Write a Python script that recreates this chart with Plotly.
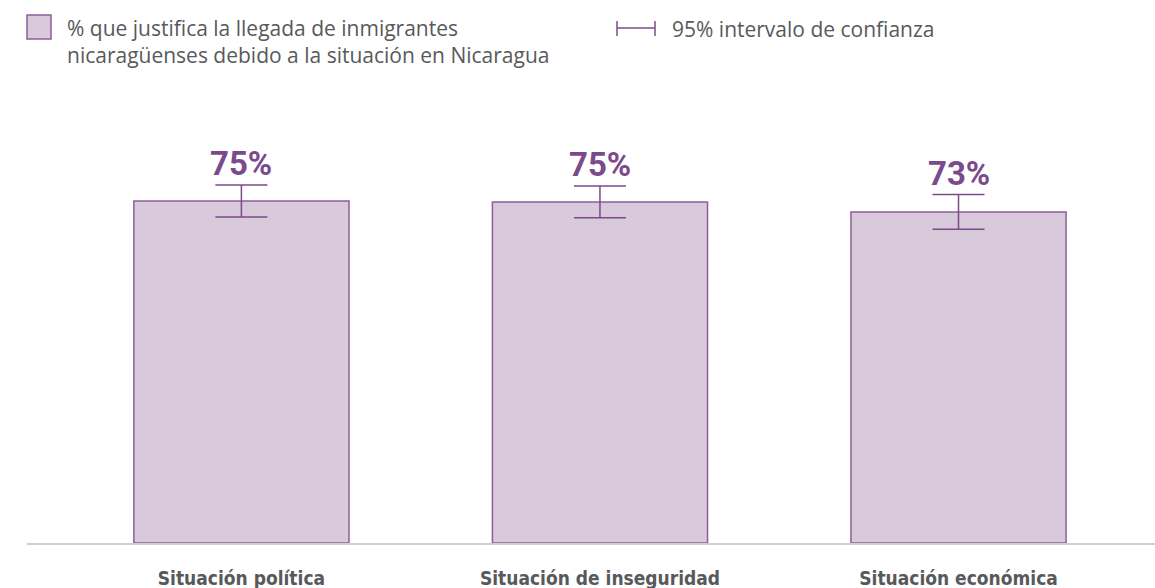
import plotly.graph_objects as go

categories = ["Situación política", "Situación de inseguridad", "Situación económica"]
values = [75.0, 74.8, 72.6]
ci = [3.5, 3.5, 3.8]
labels = ["75%", "75%", "73%"]

W, H = 1155, 588
ML, MR, MT, MB = 27, 0, 87, 45
PW, PH = W - ML - MR, H - MT - MB

def px(x):
    return (x - ML) / PW

def py(y):
    return (H - MB - y) / PH

PURPLE = "#7b4a8b"
FILL = "#d8c9db"
EDGE = "#8e5e9c"
GRAY = "#58595b"

fig = go.Figure()
fig.add_trace(go.Bar(
    x=list(range(len(categories))), y=values, width=0.6,
    marker=dict(color=FILL, line=dict(color=EDGE, width=1.5)),
    error_y=dict(type="data", array=ci, visible=True, color=PURPLE, thickness=1.5, width=26),
    showlegend=False, hoverinfo="skip",
))

for i, (v, c, t) in enumerate(zip(values, ci, labels)):
    fig.add_annotation(x=i, y=v + c, xref="x", yref="y", text=f"<b>{t}</b>",
                       showarrow=False, yanchor="bottom", yshift=0,
                       font=dict(family="Roboto", size=33, color=PURPLE))

# legend
fig.add_shape(type="rect", xref="paper", yref="paper",
              x0=px(27), x1=px(51), y0=py(39), y1=py(15),
              fillcolor=FILL, line=dict(color=EDGE, width=1.5))
fig.add_annotation(xref="paper", yref="paper", x=px(65), y=py(28), xanchor="left", yanchor="middle",
                   text="% que justifica la llegada de inmigrantes", showarrow=False,
                   font=dict(family="Open Sans", size=21, color=GRAY))
fig.add_annotation(xref="paper", yref="paper", x=px(65), y=py(55), xanchor="left", yanchor="middle",
                   text="nicaragüenses debido a la situación en Nicaragua", showarrow=False,
                   font=dict(family="Open Sans", size=21, color=GRAY))
fig.add_shape(type="line", xref="paper", yref="paper", x0=px(617), x1=px(655), y0=py(28), y1=py(28),
              line=dict(color=PURPLE, width=1.5))
fig.add_shape(type="line", xref="paper", yref="paper", x0=px(617), x1=px(617), y0=py(21), y1=py(36),
              line=dict(color=PURPLE, width=1.5))
fig.add_shape(type="line", xref="paper", yref="paper", x0=px(655), x1=px(655), y0=py(21), y1=py(36),
              line=dict(color=PURPLE, width=1.5))
fig.add_annotation(xref="paper", yref="paper", x=px(670), y=py(29), xanchor="left", yanchor="middle",
                   text="95% intervalo de confianza", showarrow=False,
                   font=dict(family="Open Sans", size=21, color=GRAY))

fig.update_layout(
    width=W, height=H,
    margin=dict(l=ML, r=MR, t=MT, b=MB, autoexpand=False),
    plot_bgcolor="white", paper_bgcolor="white",
    xaxis=dict(range=[-0.598, 2.548], tickmode="array", tickvals=list(range(len(categories))),
               ticktext=[f"<b>{c}</b>" for c in categories], showgrid=False, zeroline=False,
               automargin=False,
               showline=True, linecolor="#cfcfcf", linewidth=2, ticks="", ticklabelstandoff=17,
               tickfont=dict(family="Liberation Sans Narrow, DejaVu Sans Condensed, Roboto", size=19, color=GRAY)),
    yaxis=dict(range=[0, 100], visible=False, showgrid=False, zeroline=False, automargin=False),
    bargap=0.4,
)

fig.write_html("out.html", config={"displayModeBar": False},
               post_script="document.body.style.margin='0';document.body.style.overflow='hidden';")
